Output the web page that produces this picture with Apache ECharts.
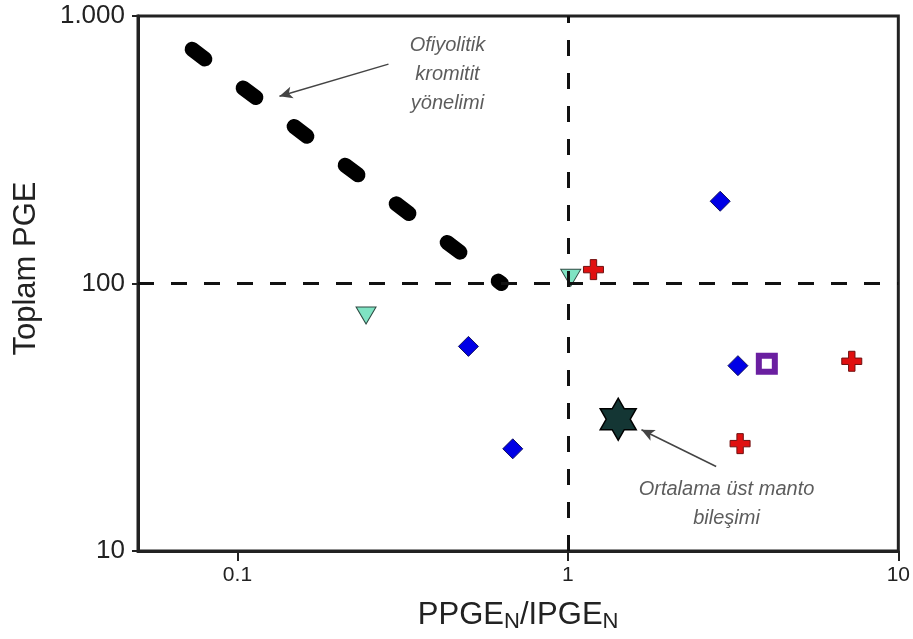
<!DOCTYPE html>
<html>
<head>
<meta charset="utf-8">
<script src="https://cdn.jsdelivr.net/npm/echarts@6/dist/echarts.min.js"></script>
<style>
  html, body { margin: 0; padding: 0; background: #fff; }
  #chart { width: 913px; height: 639px; }
</style>
</head>
<body>
<div id="chart"></div>
<script>
// values (log-log)
var xTicks = [0.1, 1, 10];
var xTickLabels = ['0.1', '1', '10'];
var yTicks = [10, 100, 1000];
var yTickLabels = ['10', '100', '1.000'];

var trendX = [0.0729, 0.629];   // ofiyolitik kromitit yönelimi
var trendY = [751, 100];

var triX = [0.245, 1.02];
var triY = [75.9, 105];
var diaX = [0.50, 0.681, 2.89, 3.27];
var diaY = [58.2, 24.1, 203, 49.3];
var crossX = [1.195, 3.32, 7.23];
var crossY = [112.7, 25.2, 51.2];
var sqX = [4.0];
var sqY = [50.1];
var starX = [1.42];   // ortalama üst manto
var starY = [31.1];

var refX = 1, refY = 100;

var noteText = ['Ofiyolitik\nkromitit\nyönelimi', 'Ortalama üst manto\nbileşimi'];
var noteX = [0.432, 3.02];
var noteY = [605, 15.0];
var arrowFrom = [[0.2864, 661], [2.81, 20.7]];
var arrowTo = [[0.134, 501], [1.67, 28.4]];

function pairs(xs, ys) {
  return xs.map(function (x, i) { return [x, ys[i]]; });
}

var plusPath = 'path://M3.4,0H6.6V3.4H10V6.6H6.6V10H3.4V6.6H0V3.4H3.4Z';
var starPath = 'path://M100,0L128.9,50L186.6,50L157.7,100L186.6,150L128.9,150L100,200L71.1,150L13.4,150L42.3,100L13.4,50L71.1,50Z';

var myChart = echarts.init(document.getElementById('chart'));

option = {
  animation: false,
  grid: {
    left: 138, right: 12, top: 16, bottom: 88,
    show: true, borderColor: '#222', borderWidth: 3
  },
  xAxis: {
    type: 'log', logBase: 10, min: 0.05, max: 10,
    name: '{a|PPGE}{s|N}{a|/IPGE}{s|N}',
    nameLocation: 'middle', nameGap: 46,
    nameTextStyle: {
      rich: {
        a: { fontSize: 31, color: '#222', fontFamily: 'Liberation Sans', lineHeight: 36, verticalAlign: 'middle' },
        s: { fontSize: 22, color: '#222', fontFamily: 'Liberation Sans', lineHeight: 36, verticalAlign: 'bottom', padding: [16, 0, 0, 0] }
      }
    },
    splitLine: { show: false },
    minorTick: { show: false },
    axisLine: { lineStyle: { color: '#222', width: 3 } },
    axisTick: { customValues: xTicks, length: 10, lineStyle: { color: '#222', width: 2 } },
    axisLabel: {
      customValues: xTicks,
      fontSize: 21, color: '#222', fontFamily: 'Liberation Sans', margin: 14,
      formatter: function (v) {
        for (var i = 0; i < xTicks.length; i++) {
          if (Math.abs(v - xTicks[i]) < xTicks[i] * 1e-6) return xTickLabels[i];
        }
        return '';
      }
    }
  },
  yAxis: {
    type: 'log', logBase: 10, min: 10, max: 1000,
    name: 'Toplam PGE',
    nameLocation: 'middle', nameGap: 96, nameRotate: 90,
    nameTextStyle: { fontSize: 31, color: '#222', fontFamily: 'Liberation Sans', padding: [0, 0, 0, 30] },
    splitLine: { show: false },
    minorTick: { show: false },
    axisLine: { lineStyle: { color: '#222', width: 3 } },
    axisTick: { length: 6, lineStyle: { color: '#222', width: 2 } },
    axisLabel: {
      fontSize: 26, color: '#222', fontFamily: 'Liberation Sans', margin: 13,
      formatter: function (v) {
        for (var i = 0; i < yTicks.length; i++) {
          if (Math.abs(v - yTicks[i]) < yTicks[i] * 1e-6) return yTickLabels[i];
        }
        return '';
      }
    }
  },
  series: [
    {
      name: 'ref',
      type: 'line',
      data: [],
      silent: true,
      markLine: {
        silent: true,
        symbol: 'none',
        label: { show: false },
        lineStyle: { color: '#111', width: 3, type: [16, 17] },
        data: [{ xAxis: refX }, { yAxis: refY }]
      }
    },
    {
      name: 'trend',
      type: 'line',
      data: pairs(trendX, trendY),
      showSymbol: false,
      silent: true,
      lineStyle: { color: '#000', width: 15, type: [16, 48], cap: 'round' }
    },
    {
      name: 'arrows',
      type: 'line',
      data: [],
      silent: true,
      markLine: {
        silent: true,
        symbol: ['none', 'arrow'],
        symbolSize: [9, 13],
        label: { show: false },
        lineStyle: { color: '#444', width: 1.5, type: 'solid' },
        data: arrowFrom.map(function (f, i) {
          return [{ coord: f }, { coord: arrowTo[i] }];
        })
      }
    },
    {
      name: 'tri',
      type: 'scatter',
      data: pairs(triX, triY),
      symbol: 'triangle', symbolRotate: 180, symbolSize: [20, 17],
      itemStyle: { color: '#7fe3c3', borderColor: '#2e4a42', borderWidth: 1, opacity: 1 }
    },
    {
      name: 'dia',
      type: 'scatter',
      data: pairs(diaX, diaY),
      symbol: 'diamond', symbolSize: 20,
      itemStyle: { color: '#0000e6', borderColor: '#101060', borderWidth: 1, opacity: 1 }
    },
    {
      name: 'cross',
      type: 'scatter',
      data: pairs(crossX, crossY),
      symbol: plusPath, symbolSize: 20,
      itemStyle: { color: '#e01010', borderColor: '#701010', borderWidth: 1, opacity: 1 }
    },
    {
      name: 'square',
      type: 'scatter',
      data: pairs(sqX, sqY),
      symbol: 'rect', symbolSize: 16,
      itemStyle: { color: '#fff', borderColor: '#6a1fa0', borderWidth: 6, opacity: 1 }
    },
    {
      name: 'star',
      type: 'scatter',
      data: pairs(starX, starY),
      symbol: starPath, symbolSize: [36, 42],
      itemStyle: { color: '#143634', borderColor: '#000', borderWidth: 1.5, opacity: 1 }
    },
    {
      name: 'notes',
      type: 'scatter',
      silent: true,
      symbolSize: 0,
      data: noteX.map(function (x, i) { return [x, noteY[i], noteText[i]]; }),
      label: {
        show: true, position: 'inside',
        formatter: function (p) { return p.value[2]; },
        fontStyle: 'italic', fontSize: 20, lineHeight: 29,
        color: '#333', fontFamily: 'Liberation Sans', align: 'center'
      }
    }
  ]
};

myChart.setOption(option);
</script>
</body>
</html>
